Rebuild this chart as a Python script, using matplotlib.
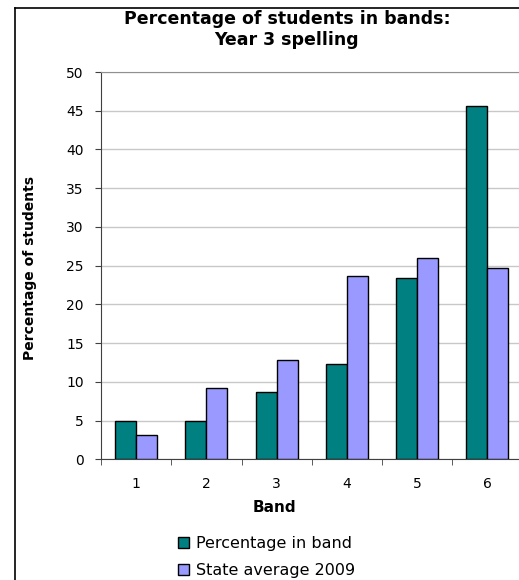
import matplotlib
matplotlib.use("Agg")
import matplotlib.pyplot as plt
from matplotlib.patches import Patch
from matplotlib.lines import Line2D
import numpy as np

plt.rcParams['font.family'] = ['DejaVu Sans']

bands = ["1", "2", "3", "4", "5", "6"]
pct_in_band = [5.0, 5.0, 8.7, 12.3, 23.4, 45.6]
state_avg_2009 = [3.2, 9.2, 12.8, 23.7, 26.0, 24.7]
series_names = ["Percentage in band", "State average 2009"]
yticks = [0, 5, 10, 15, 20, 25, 30, 35, 40, 45, 50]

W, H = 519, 580
fig = plt.figure(figsize=(W / 100, H / 100), dpi=100)
fig.patch.set_facecolor("white")

# outer chart border (clipped at right and bottom)
fig.add_artist(Line2D([14.5 / W, 14.5 / W], [0, 1 - 8 / H], transform=fig.transFigure,
                      color="black", lw=1.2))
fig.add_artist(Line2D([14.5 / W, 1], [1 - 8 / H, 1 - 8 / H], transform=fig.transFigure,
                      color="black", lw=1.2))

left, right = 101 / W, 522.5 / W
bottom, top = (H - 459.3) / H, (H - 72) / H
ax = fig.add_axes([left, bottom, right - left, top - bottom])

x = np.arange(len(bands))
bw = 0.3
colors = ["#008080", "#9999FF"]
ax.bar(x - bw / 2, pct_in_band, width=bw, color=colors[0], edgecolor="black", lw=1.0, zorder=3)
ax.bar(x + bw / 2, state_avg_2009, width=bw, color=colors[1], edgecolor="black", lw=1.0, zorder=3)

ax.set_xlim(-0.5, len(bands) - 0.5)
ax.set_ylim(0, 50)
ax.set_yticks(yticks)
ax.set_yticklabels([str(v) for v in yticks], fontsize=10)
ax.yaxis.grid(True, color="#c8c8c8", lw=1.0, zorder=0)
ax.set_axisbelow(True)

ax.set_xticks(x)
ax.set_xticklabels(bands, fontsize=10)
ax.tick_params(axis="x", which="major", length=0, pad=13)
ax.set_xticks(np.arange(-0.5, len(bands), 1.0), minor=True)
ax.tick_params(axis="x", which="minor", length=4, direction="out", color="#404040")
ax.tick_params(axis="y", length=4.5, direction="out", color="#404040", pad=8)

ax.spines["right"].set_visible(False)
ax.spines["top"].set_color("#909090")
ax.spines["left"].set_color("#404040")
ax.spines["bottom"].set_color("#404040")

fig.text(287 / W, 1 - 19 / H, "Percentage of students in bands:", ha="center", va="center",
         fontsize=12.5, fontweight="bold")
fig.text(287 / W, 1 - 40 / H, "Year 3 spelling", ha="center", va="center",
         fontsize=12.5, fontweight="bold")
fig.text(30 / W, 1 - 268 / H, "Percentage of students", ha="center", va="center",
         rotation=90, fontsize=10, fontweight="bold")
fig.text(274 / W, 1 - 508 / H, "Band", ha="center", va="center",
         fontsize=11, fontweight="bold")

handles = [Patch(facecolor=colors[0], edgecolor="black", lw=1.0),
           Patch(facecolor=colors[1], edgecolor="black", lw=1.0)]
fig.legend(handles, series_names, loc="upper left", bbox_to_anchor=(167 / W, 1 - 525 / H),
           frameon=False, fontsize=11.5, handlelength=0.65, handleheight=0.65,
           handletextpad=0.45, labelspacing=0.75, borderpad=0.2)

fig.savefig("out.png", dpi=100)
